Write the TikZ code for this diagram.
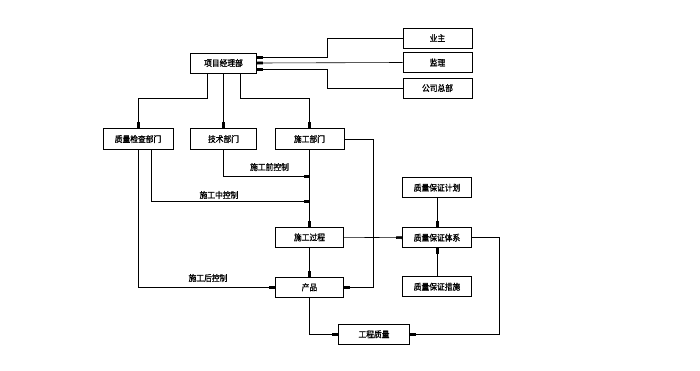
\documentclass[tikz,border=0pt]{standalone}
\usepackage{fontspec}
\setmainfont{Noto Sans CJK SC}[FakeBold=1.2,FakeStretch=0.9]
\usetikzlibrary{arrows.meta}
\begin{document}
\begin{tikzpicture}[x=1pt,y=-1pt,
  box/.style={draw,line width=0.6pt,minimum height=20pt,inner sep=0pt,font=\fontsize{8.6}{9}\selectfont},
  arr/.style={line width=0.6pt,-{Rectangle[length=6pt,width=2.6pt]}},
  ln/.style={line width=0.6pt},
  lbl/.style={inner sep=0pt,font=\fontsize{8.6}{9}\selectfont}]
\useasboundingbox (0,0) rectangle (700,370);
\node[box,minimum width=66pt] (pm) at (223.5,63) {项目经理部};
\node[box,minimum width=69pt] (yz) at (437.5,38) {业主};
\node[box,minimum width=69pt] (jl) at (437.5,62.5) {监理};
\node[box,minimum width=69pt] (zb) at (437.5,88) {公司总部};
\node[box,minimum width=70pt,minimum height=21pt] (zj) at (138,139) {质量检查部门};
\node[box,minimum width=66pt,minimum height=21pt] (js) at (223.5,139) {技术部门};
\node[box,minimum width=69pt,minimum height=21pt] (sg) at (309.5,139) {施工部门};
\node[box,minimum width=68pt] (gc) at (309.5,237.3) {施工过程};
\node[box,minimum width=68pt] (cp) at (309.5,287.3) {产品};
\node[box,minimum width=71pt] (zl) at (374,334.3) {工程质量};
\node[box,minimum width=69pt] (jh) at (437,187.7) {质量保证计划};
\node[box,minimum width=69pt] (tx) at (437,237.7) {质量保证体系};
\node[box,minimum width=69pt] (cs) at (437,286.7) {质量保证措施};
\coordinate (j1) at (309.5,176);
\coordinate (j2) at (309.5,201.7);
% top inputs
\draw[arr] (yz.west) -- ++(-75,0) |- ([yshift=5.3pt]pm.east);
\draw[arr] (jl.west) -- (pm.east);
\draw[arr] (zb.west) -- ++(-75,0) |- ([yshift=-6pt]pm.east);
% project manager to departments
\draw[arr] ([xshift=-16pt]pm.south) -- ++(0,25) -| (zj.north);
\draw[arr] (pm.south) -- (js.north);
\draw[arr] ([xshift=17pt]pm.south) -- ++(0,25) -| (sg.north);
% controls
\draw[arr] (js.south) |- (j1);
\draw[arr] ([xshift=13pt]zj.south) |- (j2);
\draw[arr] (zj.south) |- (cp.west);
\node[lbl] (l1) at (269.5,167) {施工前控制};
\node[lbl] (l2) at (219,195) {施工中控制};
\node[lbl] (l3) at (208,278) {施工后控制};
% main flow
\draw[arr] (sg.south) -- (gc.north);
\draw[arr] (gc.south) -- (cp.north);
\draw[arr] (sg.east) -- ++(29,0) |- (cp.east);
\draw[arr] (gc.east) -- (tx.west);
\draw[arr] (cp.south) |- (zl.west);
\draw[arr] (tx.east) -- ++(27,0) |- (zl.east);
\draw[arr] (jh.south) -- (tx.north);
\draw[arr] (cs.north) -- (tx.south);
\end{tikzpicture}
\end{document}
